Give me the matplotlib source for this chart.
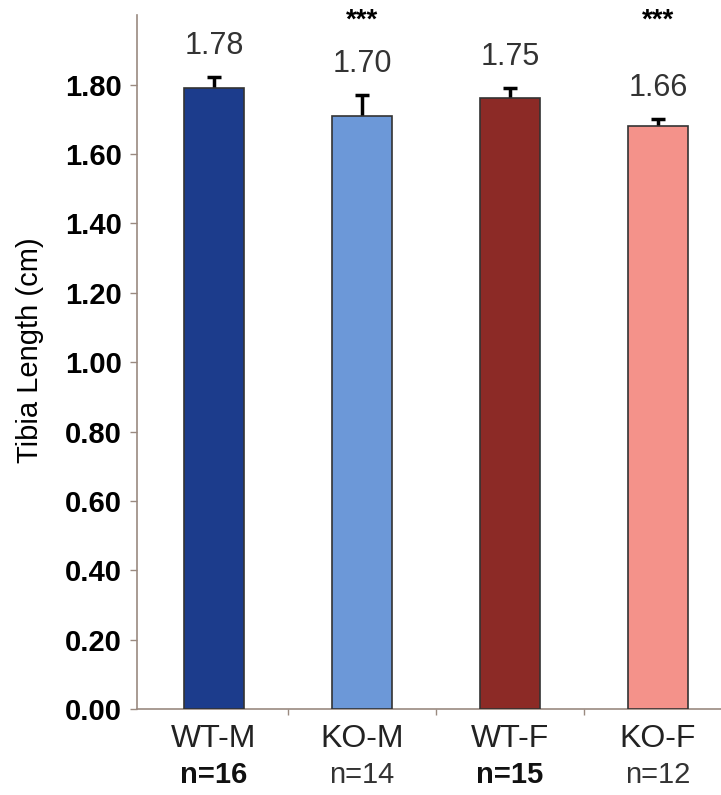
import matplotlib
matplotlib.use("Agg")
import matplotlib.pyplot as plt
import numpy as np

plt.rcParams['font.family'] = ['Liberation Sans', 'DejaVu Sans']

groups = ["WT-M", "KO-M", "WT-F", "KO-F"]
n_labels = ["n=16", "n=14", "n=15", "n=12"]
n_bold = [True, False, True, False]
heights = [1.79, 1.71, 1.76, 1.68]          # bar tops as drawn
errors = [0.032, 0.06, 0.03, 0.022]         # upper error only
value_labels = ["1.78", "1.70", "1.75", "1.66"]
signif = ["", "***", "", "***"]
colors = ["#1c3c8c", "#6c98d8", "#8c2a26", "#f4928a"]
yticks = [0.0, 0.2, 0.4, 0.6, 0.8, 1.0, 1.2, 1.4, 1.6, 1.8]

fig = plt.figure(figsize=(7.21, 7.95), dpi=100)
ax = fig.add_axes([0.19, 0.108, 0.81, 0.873])

x = np.arange(len(groups))
tops = np.array(heights) + np.array(errors)
ax.bar(x, heights, width=0.4, color=colors, edgecolor="#333333", linewidth=1.2, zorder=3)
# upper-only error bars: stem from bar top + cap
ax.vlines(x, heights, tops, color="black", linewidth=2.5, zorder=2)
ax.hlines(tops, x - 0.045, x + 0.045, color="black", linewidth=2.5, zorder=2)

for xi, t, lab, s in zip(x, tops, value_labels, signif):
    ax.text(xi, t + 0.045, lab, ha="center", va="bottom", fontsize=22, color="#333333")
    if s:
        ax.text(xi, 1.985, s, ha="center", va="center", fontsize=20, fontweight="bold",
                color="black", clip_on=False)

ax.set_xlim(-0.52, 3.426)
ax.set_ylim(0, 2.0)
ax.set_yticks(yticks)
ax.set_yticklabels([f"{v:.2f}" for v in yticks], fontsize=21, fontweight="bold")
ax.tick_params(axis="y", direction="out", length=5, width=1, color="#9a8a80", pad=6)

ax.set_xticks([0.5, 1.5, 2.5])
ax.set_xticklabels([])
ax.tick_params(axis="x", direction="out", length=4, width=1, color="#9a8a80")

for xi, g, n, b in zip(x, groups, n_labels, n_bold):
    ax.text(xi, -0.085, g, ha="center", va="center", fontsize=23, color="#222222")
    ax.text(xi, -0.19, n, ha="center", va="center", fontsize=21,
            fontweight="bold" if b else "normal", color="#111111" if b else "#333333")

for side in ["top", "right"]:
    ax.spines[side].set_visible(False)
for side in ["left", "bottom"]:
    ax.spines[side].set_color("#9a8a80")
    ax.spines[side].set_linewidth(1.2)

fig.text(0.042, 0.56, "Tibia Length (cm)", rotation=90, ha="center", va="center", fontsize=21)

fig.savefig("out.png", dpi=100)
